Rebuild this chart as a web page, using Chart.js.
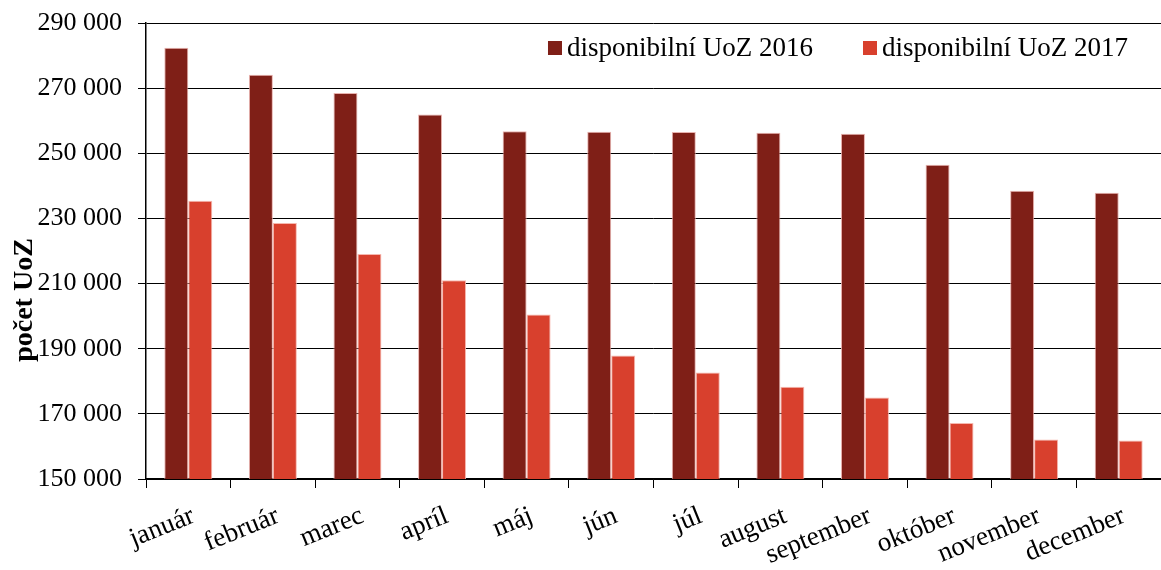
<!DOCTYPE html>
<html>
<head>
<meta charset="utf-8">
<script src="https://cdn.jsdelivr.net/npm/chart.js@4.4.1/dist/chart.umd.min.js"></script>
<style>
html,body{margin:0;padding:0;background:#fff;}
#wrap{width:1161px;height:570px;}
</style>
</head>
<body>
<div id="wrap"><canvas id="c" width="1161" height="570"></canvas></div>
<script>
const categories = ["január","február","marec","apríl","máj","jún","júl","august","september","október","november","december"];
const uoz2016 = [282400,274100,268500,261900,256800,256600,256500,256300,256000,246500,238500,237900];
const uoz2017 = [235400,228600,219100,211000,200500,187900,182700,178300,175000,167200,162100,161800];
const seriesLabels = ["disponibilní UoZ 2016","disponibilní UoZ 2017"];
const yMin = 150000, yMax = 290000, yStep = 20000;
const yTitle = "počet UoZ";

const FONT = "'Liberation Serif', 'Times New Roman', serif";
const FS = 26;

const yTitlePlugin = {
  id: 'yTitlePlugin',
  afterDraw(chart) {
    const ctx = chart.ctx;
    ctx.save();
    ctx.font = "bold 28px " + FONT;
    ctx.fillStyle = '#000';
    ctx.textAlign = 'center';
    ctx.textBaseline = 'middle';
    ctx.translate(25, 300);
    ctx.rotate(-Math.PI / 2);
    ctx.fillText(yTitle, 0, 0);
    ctx.restore();
  }
};

// legend drawn inside the plot area, top-right
const innerLegend = {
  id: 'innerLegend',
  afterDraw(chart) {
    const ctx = chart.ctx;
    const area = chart.chartArea;
    ctx.save();
    ctx.font = "27px " + FONT;
    ctx.textBaseline = 'middle';
    ctx.textAlign = 'left';
    const box = 14, gapBT = 5, gapItems = 50;
    const items = chart.data.datasets.map(d => ({ label: d.label, color: d.backgroundColor, w: ctx.measureText(d.label).width }));
    let total = items.reduce((s, it) => s + box + gapBT + it.w, 0) + gapItems * (items.length - 1);
    let x = area.right - 33 - total;
    const cy = area.top + 25;
    items.forEach(it => {
      ctx.fillStyle = it.color;
      ctx.fillRect(x, cy - box / 2, box, box);
      x += box + gapBT;
      ctx.fillStyle = '#000';
      ctx.fillText(it.label, x, cy + 1);
      x += it.w + gapItems;
    });
    ctx.restore();
  }
};

new Chart(document.getElementById('c'), {
  type: 'bar',
  data: {
    labels: categories,
    datasets: [
      { label: seriesLabels[0], data: uoz2016, backgroundColor: '#7f1f17', borderColor: 'rgba(230,170,165,0.9)', borderWidth: {left:1,right:1,top:1,bottom:0}, borderSkipped: 'bottom' },
      { label: seriesLabels[1], data: uoz2017, backgroundColor: '#d8402d', borderColor: 'rgba(245,175,165,0.9)', borderWidth: {left:1,right:1,top:1,bottom:0}, borderSkipped: 'bottom' }
    ]
  },
  options: {
    responsive: false,
    animation: false,
    devicePixelRatio: 1,
    layout: { padding: { top: 23, right: 0, left: 0, bottom: 0 } },
    datasets: { bar: { categoryPercentage: 0.567, barPercentage: 1.0 } },
    plugins: {
      legend: { display: false },
      tooltip: { enabled: false }
    },
    scales: {
      x: {
        grid: { display: true, drawOnChartArea: false, offset: true, tickLength: 9, color: '#000', lineWidth: 1 },
        border: { display: true, color: '#000', width: 1.5 },
        ticks: { font: { family: FONT, size: 27 }, color: '#000', minRotation: 22, maxRotation: 22, padding: 12, labelOffset: 5, autoSkip: false },
        afterFit(scale) { scale.height = 91; }
      },
      y: {
        min: yMin, max: yMax,
        grid: { color: '#000', lineWidth: 1, tickLength: 8 },
        border: { display: true, color: '#000', width: 1.5 },
        ticks: {
          stepSize: yStep,
          font: { family: FONT, size: FS },
          color: '#000',
          padding: 16,
          callback: v => String(v).replace(/\B(?=(\d{3})+(?!\d))/g, ' ')
        },
        afterFit(scale) { scale.width = 146; scale.paddingTop = 0; scale.paddingBottom = 0; }
      }
    }
  },
  plugins: [yTitlePlugin, innerLegend]
});
</script>
</body>
</html>
